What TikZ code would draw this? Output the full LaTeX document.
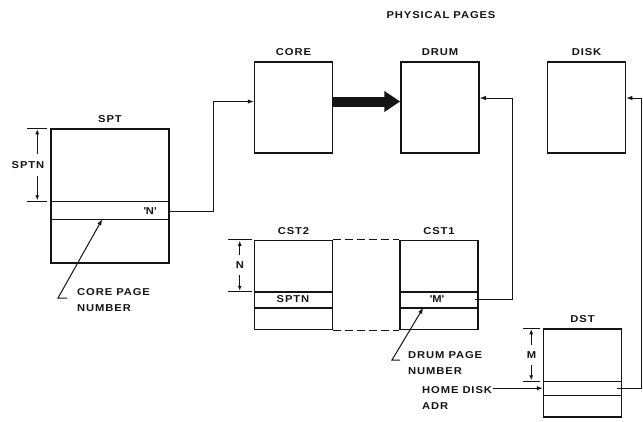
\documentclass[tikz,border=0pt]{standalone}
\usepackage{fontspec}
\setmainfont{Liberation Sans}[FakeStretch=1.12,LetterSpace=9]
\usepackage{tikz}
\usetikzlibrary{arrows.meta,positioning,calc}
\definecolor{ink}{HTML}{141414}
\tikzset{
  pagebox/.style={draw=ink, line width=1.5pt, inner sep=0pt, minimum width=78pt, minimum height=91pt},
  pagerule/.style={draw=ink, line width=1.5pt},
  lbl/.style={font=\fontsize{10}{16}\selectfont\bfseries, text=ink, inner sep=1pt},
  boxname/.style={label={[lbl, label distance=4pt]above:#1}},
  link/.style={draw=ink, line width=1pt, -{Latex[length=6pt,width=4.5pt]}},
  dimline/.style={draw=ink, line width=1pt, {Latex[length=5pt,width=4pt]}-{Latex[length=5pt,width=4pt]}},
  dimtick/.style={draw=ink, line width=1pt},
  dimlbl/.style={lbl, fill=white, inner xsep=0pt, inner ysep=7pt},
  bigarrow/.style={draw=ink, line width=10pt, -{Triangle[length=16pt,width=20pt]}},
}

\begin{document}
\begin{tikzpicture}[x=1pt,y=-1pt]
  \useasboundingbox (0,0) rectangle (643,421);
  \node[lbl] (title) at (441,15) {PHYSICAL PAGES};

  \node[pagebox, boxname=CORE] (core) at (293.5,107.5) {};
  \node[pagebox, boxname=DRUM, right=67pt of core] (drum) {};
  \node[pagebox, boxname=DISK, right=67pt of drum] (disk) {};
  \node[pagebox, boxname=SPT, minimum width=118pt, minimum height=134pt] (spt) at (110,196) {};
  \node[pagebox, boxname=CST2, minimum height=89pt, below=86pt of core] (cst2) {};
  \node[pagebox, boxname=CST1, minimum height=89pt, right=66pt of cst2] (cst1) {};
  \node[pagebox, boxname=DST, minimum height=88pt] (dst) at (582.5,373) {};

  \foreach \b/\r in {spt/73,spt/91,cst2/52,cst2/68,cst1/52,cst1/68,dst/53,dst/67}
    \draw[pagerule] ($(\b.north west)+(0,\r)$) -- ($(\b.north east)+(0,\r)$);

  \node[lbl] (sptn) at (150,211) {\textquotesingle N\textquotesingle};
  \node[lbl] (cstn) at (293,299) {SPTN};
  \node[lbl] (cstm) at (437,299) {\textquotesingle M\textquotesingle};
  \coordinate (dstrow) at ($(dst.north)+(0,60)$);

  \node[lbl, align=left, anchor=north west] (corepg) at (76,287) {CORE PAGE\\NUMBER};
  \node[lbl, align=left, anchor=north west] (drumpg) at (407,350) {DRUM PAGE\\NUMBER};
  \node[lbl, align=left, anchor=north west] (homeadr) at (421,385) {HOME DISK\\ADR};

  \draw[bigarrow] ([yshift=6pt]core.east) -- ([yshift=6pt]drum.west);
  \draw[link] (spt.east |- sptn) -- ++(44,0) |- ([yshift=6pt]core.west);
  \draw[link] ($(cst1.east |- cstm)+(-4,0)$) -- ++(38,0) |- ([yshift=9.5pt]drum.east);
  \draw[link] ($(dst.east |- dstrow)+(-5,0)$) -- ++(24,0) |- ([yshift=9.5pt]disk.east);
  \draw[link] (homeadr.east |- dstrow) -- (dst.west |- dstrow);
  \draw[link] ($(corepg.north west)+(-9,11)$) -- ++(-9,0) -- ($(spt.north west)+(52,91)$);
  \draw[link] ($(drumpg.north west)+(-7,10)$) -- ++(-8,0) -- ($(cst1.north west)+(24,68)$);

  \draw[dashed, dash pattern=on 8pt off 4pt, draw=ink, line width=1pt] (cst2.north east) -- (cst1.north west);
  \draw[dashed, dash pattern=on 8pt off 4pt, draw=ink, line width=1pt] (cst2.south east) -- (cst1.south west);

  \foreach \b/\dx/\len/\r/\t in {spt/-23/20/73/SPTN,cst2/-26/24/52/N,dst/-20/17/53/M}{
    \draw[dimtick] ($(\b.north west)+(\dx,0)$) -- ++(\len,0);
    \draw[dimtick] ($(\b.north west)+(\dx,\r)$) -- ++(\len,0);
    \draw[dimline] ($(\b.north west)+(\dx+\len/2,1)$) -- ($(\b.north west)+(\dx+\len/2,\r-1)$);
  }
  \node[dimlbl] (sptnlbl) at (28,165) {SPTN};
  \node[dimlbl] (nlbl) at (240,265) {N};
  \node[dimlbl] (mlbl) at (531.5,355) {M};
\end{tikzpicture}
\end{document}
